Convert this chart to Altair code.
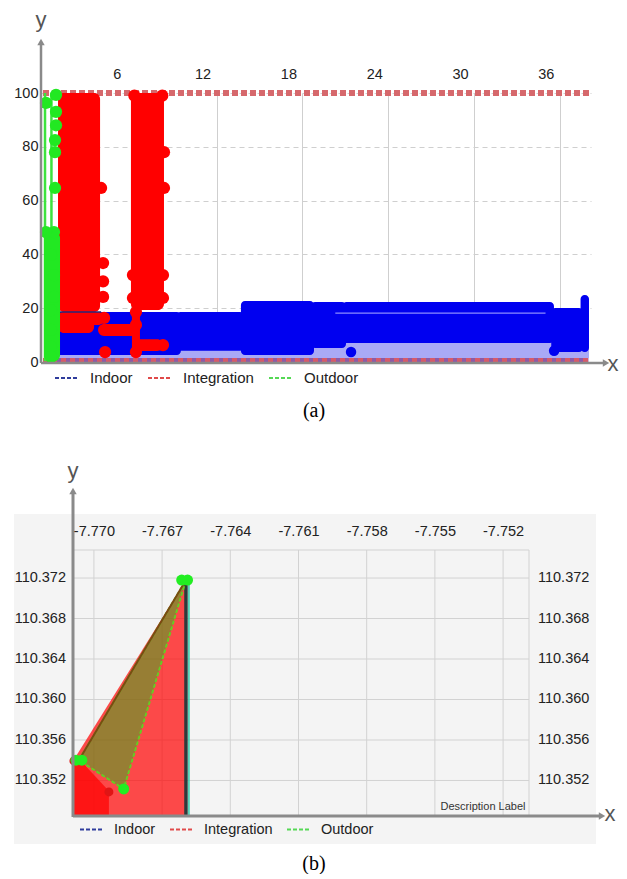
import altair as alt
import pandas as pd

FONT = "Liberation Sans, Arial, sans-serif"
SANS = "Liberation Sans, Arial, sans-serif"
SERIF = "Liberation Serif, Times New Roman, serif"

SERIES = ["Indoor", "Integration", "Outdoor"]
LEGEND_COLORS = ["#2f3c9c", "#e04a4a", "#55d855"]

# ---------------- panel (a) ----------------
A_XTICKS = [6, 12, 18, 24, 30, 36]
A_YTICKS = [0, 20, 40, 60, 80, 100]
A_XDOMAIN = [-0.28, 38.18]
A_YDOMAIN = [0, 100]

IN_X0 = [0.63, 9.2, 13.7, 18.6, 20.8, 35.4, 37.45]
IN_X1 = [9.5, 13.92, 18.81, 21.05, 35.59, 37.62, 38.04]
IN_Y0 = [2.6, 4.2, 2.6, 5.2, 7.1, 3.7, 3.7]
IN_Y1 = [18.6, 18.6, 22.7, 22.3, 22.3, 20.1, 24.9]
IN_DOT_X = [21.4, 35.6]
IN_DOT_Y = [3.7, 4.2]
IN_SHADE_X = [0.63, 38.04]
IN_SHADE_Y = [1.5, 8.0]
IN_INNER_X = [20.3, 35.0]
IN_INNER_Y = [18.2]
IN_LINE_X = [0.56, 3.92]
IN_LINE_Y = [18.6]

INT_X0 = [0.91, 0.91, 0.91, 3.71, 6.01, 6.08, 6.22]
INT_X1 = [3.85, 3.43, 4.13, 6.50, 8.32, 6.64, 8.25]
INT_Y0 = [18.6, 10.8, 13.8, 9.7, 19.3, 2.6, 4.1]
INT_Y1 = [100, 18.6, 18.6, 14.1, 100, 19.3, 8.5]
INT_DOT_X = [3.92, 4.06, 4.06, 4.06, 4.20, 6.15, 8.25, 6.15, 8.25, 8.32, 8.32,
             6.36, 6.36, 6.36, 6.25, 8.2, 8.25, 4.13]
INT_DOT_Y = [64.7, 36.8, 30.0, 24.2, 3.7, 32.3, 32.3, 23.8, 23.8, 78.0, 64.7,
             18.6, 13.8, 3.7, 99.0, 99.0, 6.3, 16.4]

OUT_LINE_X = [0.0, 0.45]
OUT_LINE_Y = [0.3, 100]
OUT_BAND_X = [-0.07, 1.05]
OUT_BAND_Y = [0.3, 48.3]
OUT_DOT_X = [0.77, 0.07, 0.77, 0.77, 0.70, 0.70, 0.70, 0.63, 0.07, 0.42, 0.63,
             0.63, 0.42, 0.42, 0.42, 0.42]
OUT_DOT_Y = [99.3, 96.3, 93.0, 88.0, 82.5, 78.0, 64.7, 48.3, 48.3, 39.8, 32.3,
             24.2, 19.3, 11.9, 5.6, 1.9]

A_TOP_X = [-0.14, 38.18]
A_TOP_Y = [100]
A_BOT_X = [-0.14, 38.0]
A_BOT_Y = [0.6]

# ---------------- panel (b) ----------------
B_XTICKS = [-7.770, -7.767, -7.764, -7.761, -7.758, -7.755, -7.752]
B_YTICKS = [110.352, 110.356, 110.360, 110.364, 110.368, 110.372]
B_XDOMAIN = [-7.77092, -7.75086]
B_YDOMAIN = [110.34849, 110.37477]

INT_AREA1_X = [-7.77092, -7.76595]
INT_AREA1_Y = [110.35393, 110.37180]
INT_AREA2_X = [-7.77088, -7.77057, -7.76934]
INT_AREA2_Y = [110.35393, 110.35393, 110.35096]
INT_B_DOT_X = [-7.77088, -7.76934]
INT_B_DOT_Y = [110.35393, 110.35087]
INT_B_LINE_X = [-7.77066, -7.76595]
INT_B_LINE_Y = [110.35400, 110.37180]

OUT_POLY_X = [-7.77066, -7.76595, -7.76869]
OUT_POLY_Y = [110.35400, 110.37180, 110.35116]
OUT_B_DOT_X = [-7.77079, -7.77053, -7.76869, -7.76614, -7.76588]
OUT_B_DOT_Y = [110.35400, 110.35400, 110.35116, 110.37180, 110.37180]

IN_B_RULE_X = [-7.76595]
TEAL_RULE_X = [-7.76582]
IN_B_RULE_TOP = [110.37180]

DUMMY = pd.DataFrame({"k": [0]})
AXC = "#8a8a8a"

# ====================== panel (a) =========================
xa = alt.Scale(domain=A_XDOMAIN, nice=False, zero=False)
ya = alt.Scale(domain=A_YDOMAIN, nice=False, zero=False)
AX_A_X = alt.Axis(orient="top", values=A_XTICKS, title=None, labelFont=FONT,
                  labelFontSize=14.5, labelColor="#222", labelPadding=12,
                  labelOffset=-14, ticks=False, domain=False, grid=True,
                  gridColor="#cfcfcf", gridWidth=1)
AX_A_Y = alt.Axis(orient="left", values=A_YTICKS, title=None, labelFont=FONT,
                  labelFontSize=14.5, labelColor="#222", labelPadding=3,
                  ticks=False, domain=False, grid=True, gridColor="#cfcfcf",
                  gridDash=[5, 4])


def XA(f):
    return alt.X(f, type="quantitative", scale=xa, axis=AX_A_X)


def YA(f):
    return alt.Y(f, type="quantitative", scale=ya, axis=AX_A_Y)


top_line_df = pd.DataFrame({"x0": [A_TOP_X[0]], "x1": [A_TOP_X[1]], "y": A_TOP_Y})
a_top = alt.Chart(top_line_df).mark_rule(
    color="#d6686c", strokeWidth=6, strokeDash=[6, 3]).encode(
    x=XA("x0"), x2="x1:Q", y=YA("y"))

bot_df = pd.DataFrame({"x0": [A_BOT_X[0]], "x1": [A_BOT_X[1]], "y": A_BOT_Y})
a_bot_purple = alt.Chart(bot_df).mark_rule(color="#8e5aa6", strokeWidth=5).encode(
    x=XA("x0"), x2="x1:Q", y=YA("y"))
a_bot_red = alt.Chart(bot_df).mark_rule(
    color="#d65a6a", strokeWidth=5, strokeDash=[5, 4]).encode(
    x=XA("x0"), x2="x1:Q", y=YA("y"))

shade_df = pd.DataFrame({"x0": [IN_SHADE_X[0]], "x1": [IN_SHADE_X[1]],
                         "y0": [IN_SHADE_Y[0]], "y1": [IN_SHADE_Y[1]]})
a_shade = alt.Chart(shade_df).mark_rect(color="#a9a9f6").encode(
    x=XA("x0"), x2="x1:Q", y=YA("y0"), y2="y1:Q")

in_df = pd.DataFrame({"x0": IN_X0, "x1": IN_X1, "y0": IN_Y0, "y1": IN_Y1})
a_in = alt.Chart(in_df).mark_rect(color="#0000f0", cornerRadius=4).encode(
    x=XA("x0"), x2="x1:Q", y=YA("y0"), y2="y1:Q")
a_in_dots = alt.Chart(pd.DataFrame({"x": IN_DOT_X, "y": IN_DOT_Y})).mark_circle(
    color="#0000f0", size=110, opacity=1).encode(x=XA("x"), y=YA("y"))
a_in_inner = alt.Chart(pd.DataFrame({"x0": [IN_INNER_X[0]], "x1": [IN_INNER_X[1]],
                                     "y": IN_INNER_Y})).mark_rule(
    color="#8c8cff", strokeWidth=1.2).encode(x=XA("x0"), x2="x1:Q", y=YA("y"))

int_df = pd.DataFrame({"x0": INT_X0, "x1": INT_X1, "y0": INT_Y0, "y1": INT_Y1})
a_int = alt.Chart(int_df).mark_rect(color="#ff0000", cornerRadius=6).encode(
    x=XA("x0"), x2="x1:Q", y=YA("y0"), y2="y1:Q")
a_int_dots = alt.Chart(pd.DataFrame({"x": INT_DOT_X, "y": INT_DOT_Y})).mark_circle(
    color="#ff0000", size=150, opacity=1).encode(x=XA("x"), y=YA("y"))

a_in_line = alt.Chart(pd.DataFrame({"x0": [IN_LINE_X[0]], "x1": [IN_LINE_X[1]],
                                    "y": IN_LINE_Y})).mark_rule(
    color="#26267a", strokeWidth=1.5).encode(x=XA("x0"), x2="x1:Q", y=YA("y"))

a_out_lines = alt.Chart(pd.DataFrame({"x": OUT_LINE_X, "y0": [OUT_LINE_Y[0]] * 2,
                                      "y1": [OUT_LINE_Y[1]] * 2})).mark_rule(
    color="#3ee23e", strokeWidth=2.5).encode(x=XA("x"), y=YA("y0"), y2="y1:Q")
a_out_band = alt.Chart(pd.DataFrame({"x0": [OUT_BAND_X[0]], "x1": [OUT_BAND_X[1]],
                                     "y0": [OUT_BAND_Y[0]], "y1": [OUT_BAND_Y[1]]})).mark_rect(
    color="#22e822", cornerRadius=6).encode(x=XA("x0"), x2="x1:Q", y=YA("y0"), y2="y1:Q")
a_out_dots = alt.Chart(pd.DataFrame({"x": OUT_DOT_X, "y": OUT_DOT_Y})).mark_circle(
    color="#22e822", size=150, opacity=1).encode(x=XA("x"), y=YA("y"))

leg_a_df = pd.DataFrame({"series": SERIES, "x": [A_XDOMAIN[0]] * 3, "y": [A_YDOMAIN[0]] * 3})
a_legend = alt.Chart(leg_a_df).mark_rule(strokeCap="butt").encode(
    x=XA("x"), x2="x:Q", y=YA("y"), y2="y:Q",
    color=alt.Color("series:N", scale=alt.Scale(domain=SERIES, range=LEGEND_COLORS),
                    legend=alt.Legend(title=None, orient="none", legendX=13, legendY=272,
                                      direction="horizontal", symbolType="stroke",
                                      symbolSize=576, symbolStrokeWidth=2,
                                      symbolDash=[4, 2], labelFont=FONT,
                                      labelFontSize=15, labelColor="#222",
                                      labelOffset=10, columnPadding=11, padding=0)))

a_yaxis = alt.Chart(DUMMY).mark_rule(color=AXC, strokeWidth=2.5).encode(
    x=alt.value(0), y=alt.value(270), y2=alt.value(-48))
a_yarrow = alt.Chart(DUMMY).mark_point(shape="triangle-up", filled=True, size=55,
                                       color=AXC, opacity=1).encode(
    x=alt.value(0), y=alt.value(-51))
a_xaxis = alt.Chart(DUMMY).mark_rule(color=AXC, strokeWidth=2.5).encode(
    x=alt.value(0), x2=alt.value(562), y=alt.value(270))
a_xarrow = alt.Chart(DUMMY).mark_point(shape="triangle-right", filled=True, size=55,
                                       color=AXC, opacity=1).encode(
    x=alt.value(565), y=alt.value(270))
a_ylab = alt.Chart(DUMMY).mark_text(text="y", font=SANS, fontSize=22, color="#555",
                                    baseline="alphabetic").encode(
    x=alt.value(0), y=alt.value(-66))
a_xlab = alt.Chart(DUMMY).mark_text(text="x", font=SANS, fontSize=22, color="#555",
                                    baseline="alphabetic").encode(
    x=alt.value(572), y=alt.value(278))
a_cap = alt.Chart(DUMMY).mark_text(text="(a)", font=SERIF, fontSize=20, color="#000",
                                   baseline="middle").encode(
    x=alt.value(273), y=alt.value(318))

panel_a = alt.layer(
    a_top, a_bot_purple, a_bot_red, a_shade, a_in, a_in_dots, a_in_inner,
    a_int, a_int_dots, a_in_line, a_out_lines, a_out_band, a_out_dots,
    a_legend, a_yaxis, a_yarrow, a_xaxis, a_xarrow, a_ylab, a_xlab, a_cap
).properties(width=550, height=269)

# ====================== panel (b) =========================
# plot rectangle of (b) sits 32 px right of the shared left edge
BL = 32
BW = 456
xb = alt.Scale(domain=B_XDOMAIN, range=[BL, BL + BW], nice=False, zero=False)
yb = alt.Scale(domain=B_YDOMAIN, nice=False, zero=False)
AX_B_X = alt.Axis(orient="top", values=B_XTICKS, title=None, labelFont=FONT,
                  labelFontSize=14.5, labelColor="#222", labelPadding=12,
                  ticks=False, domain=False, grid=False, zindex=2,
                  labelExpr="'-' + format(abs(datum.value), '.3f')")


def XB(f):
    return alt.X(f, type="quantitative", scale=xb, axis=AX_B_X)


def YB(f):
    return alt.Y(f, type="quantitative", scale=yb, axis=None)


GRID = "#d2d2d2"
b_bg = alt.Chart(DUMMY).mark_rect(fill="#f4f4f4").encode(
    x=alt.value(BL - 59), x2=alt.value(BL + 523), y=alt.value(-36), y2=alt.value(294))

b_vgrid = alt.Chart(pd.DataFrame({"v": B_XTICKS})).mark_rule(
    color=GRID, strokeWidth=1).encode(x=XB("v"))
b_hgrid = alt.Chart(pd.DataFrame({"v": B_YTICKS})).mark_rule(
    color=GRID, strokeWidth=1).encode(y=YB("v"), x=alt.value(BL), x2=alt.value(BL + BW))
b_border_y = alt.Chart(pd.DataFrame({"v": [B_YDOMAIN[1]]})).mark_rule(
    color=GRID, strokeWidth=1).encode(y=YB("v"), x=alt.value(BL), x2=alt.value(BL + BW))
b_border_x = alt.Chart(pd.DataFrame({"v": [B_XDOMAIN[1]]})).mark_rule(
    color=GRID, strokeWidth=1).encode(x=XB("v"))
b_left_labels = alt.Chart(pd.DataFrame({"v": B_YTICKS})).mark_text(
    font=FONT, fontSize=14.5, color="#222", align="right", baseline="middle").encode(
    y=YB("v"), x=alt.value(BL - 7), text=alt.Text("v:Q", format=".3f"))
b_right_labels = alt.Chart(pd.DataFrame({"v": B_YTICKS})).mark_text(
    font=FONT, fontSize=14.5, color="#222", align="left", baseline="middle").encode(
    y=YB("v"), x=alt.value(BL + BW + 9), text=alt.Text("v:Q", format=".3f"))

area1_df = pd.DataFrame({"x": INT_AREA1_X, "y": INT_AREA1_Y,
                         "b": [B_YDOMAIN[0]] * len(INT_AREA1_X)})
b_area1 = alt.Chart(area1_df).mark_area(color="#ff0000", opacity=0.7).encode(
    x=XB("x"), y=YB("y"), y2="b:Q")
area2_df = pd.DataFrame({"x": INT_AREA2_X, "y": INT_AREA2_Y,
                         "b": [B_YDOMAIN[0]] * len(INT_AREA2_X)})
b_area2 = alt.Chart(area2_df).mark_area(color="#ff0000", opacity=0.7).encode(
    x=XB("x"), y=YB("y"), y2="b:Q")

rule_df = pd.DataFrame({"x": IN_B_RULE_X, "t": IN_B_RULE_TOP, "b": [B_YDOMAIN[0]]})
b_in_rule = alt.Chart(rule_df).mark_rule(color="#2e3b3b", strokeWidth=3.5).encode(
    x=XB("x"), y=YB("t"), y2="b:Q")
teal_df = pd.DataFrame({"x": TEAL_RULE_X, "t": IN_B_RULE_TOP, "b": [B_YDOMAIN[0]]})
b_teal_rule = alt.Chart(teal_df).mark_rule(color="#33ccaa", strokeWidth=1.5).encode(
    x=XB("x"), y=YB("t"), y2="b:Q")

poly_df = pd.DataFrame({"x": OUT_POLY_X, "y": OUT_POLY_Y, "i": list(range(len(OUT_POLY_X)))})
b_poly = alt.Chart(poly_df).mark_line(
    interpolate="linear-closed", fill="#44aa22", fillOpacity=0.55,
    stroke="#66cc22", strokeWidth=2, strokeDash=[4, 2]).encode(
    x=XB("x"), y=YB("y"), order=alt.Order("i:Q"))

b_int_line = alt.Chart(pd.DataFrame({"x": INT_B_LINE_X, "y": INT_B_LINE_Y})).mark_line(
    color="#7a4a12", strokeWidth=2).encode(x=XB("x"), y=YB("y"))
b_int_dots = alt.Chart(pd.DataFrame({"x": INT_B_DOT_X, "y": INT_B_DOT_Y})).mark_circle(
    color="#e01515", size=80, opacity=1).encode(x=XB("x"), y=YB("y"))
b_out_dots = alt.Chart(pd.DataFrame({"x": OUT_B_DOT_X, "y": OUT_B_DOT_Y})).mark_circle(
    color="#22ee22", size=120, opacity=1).encode(x=XB("x"), y=YB("y"))

leg_b_df = pd.DataFrame({"series": SERIES, "x": [B_XDOMAIN[0]] * 3, "y": [B_YDOMAIN[0]] * 3})
b_legend = alt.Chart(leg_b_df).mark_rule(strokeCap="butt").encode(
    x=XB("x"), x2="x:Q", y=YB("y"), y2="y:Q",
    color=alt.Color("series:N", scale=alt.Scale(domain=SERIES, range=LEGEND_COLORS),
                    legend=alt.Legend(title=None, orient="none", legendX=BL + 6, legendY=267,
                                      direction="horizontal", symbolType="stroke",
                                      symbolSize=529, symbolStrokeWidth=2,
                                      symbolDash=[4, 2], labelFont=FONT,
                                      labelFontSize=14.5, labelColor="#222",
                                      labelOffset=10, columnPadding=10, padding=0)))

b_desc = alt.Chart(DUMMY).mark_text(text="Description Label", font=FONT, fontSize=11,
                                    color="#333", baseline="middle").encode(
    x=alt.value(BL + 410), y=alt.value(257))
b_yaxis = alt.Chart(DUMMY).mark_rule(color=AXC, strokeWidth=3).encode(
    x=alt.value(BL), y=alt.value(267), y2=alt.value(-56))
b_yarrow = alt.Chart(DUMMY).mark_point(shape="triangle-up", filled=True, size=55,
                                       color=AXC, opacity=1).encode(
    x=alt.value(BL), y=alt.value(-59))
b_xaxis = alt.Chart(DUMMY).mark_rule(color=AXC, strokeWidth=3).encode(
    x=alt.value(BL), x2=alt.value(BL + 526), y=alt.value(266))
b_xarrow = alt.Chart(DUMMY).mark_point(shape="triangle-right", filled=True, size=55,
                                       color=AXC, opacity=1).encode(
    x=alt.value(BL + 529), y=alt.value(266))
b_ylab = alt.Chart(DUMMY).mark_text(text="y", font=SANS, fontSize=22, color="#555",
                                    baseline="alphabetic").encode(
    x=alt.value(BL), y=alt.value(-72))
b_xlab = alt.Chart(DUMMY).mark_text(text="x", font=SANS, fontSize=22, color="#555",
                                    baseline="alphabetic").encode(
    x=alt.value(BL + 537), y=alt.value(271))
b_cap = alt.Chart(DUMMY).mark_text(text="(b)", font=SERIF, fontSize=20, color="#000",
                                   baseline="middle").encode(
    x=alt.value(BL + 241), y=alt.value(314))

panel_b = alt.layer(
    b_bg, b_vgrid, b_hgrid, b_border_y, b_border_x, b_left_labels, b_right_labels,
    b_area1, b_area2, b_in_rule, b_teal_rule, b_poly, b_int_line, b_int_dots,
    b_out_dots, b_legend, b_desc, b_yaxis, b_yarrow, b_xaxis, b_xarrow, b_ylab,
    b_xlab, b_cap
).properties(width=BL + BW, height=266)

chart = alt.vconcat(panel_a, panel_b, spacing=39).resolve_scale(
    color="independent"
).properties(
    padding={"left": 5, "top": 1, "right": 0, "bottom": 0}
).configure_view(strokeWidth=0)

chart.save("out.html", embed_options={"renderer": "svg", "actions": False})
